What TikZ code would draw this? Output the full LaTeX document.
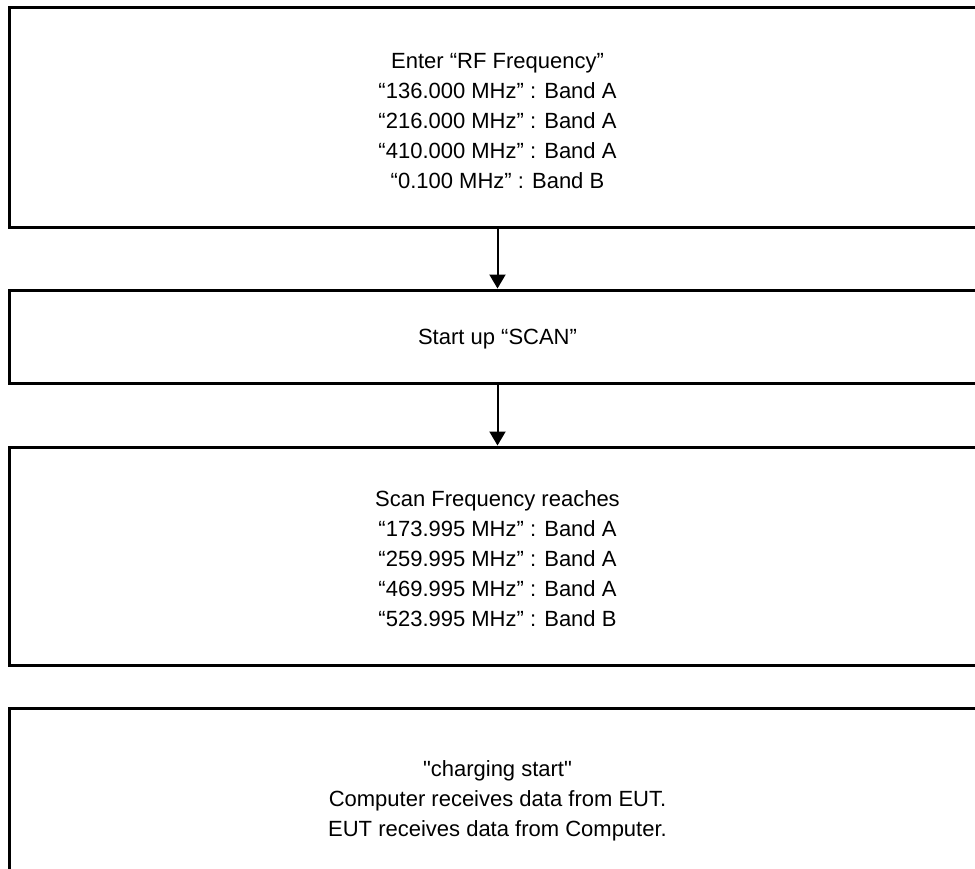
\documentclass[tikz,border=0pt]{standalone}
\usepackage{fontspec}
\setmainfont{Liberation Sans}[Ligatures=TeXOff]
\usetikzlibrary{arrows.meta}
\tikzset{
  box/.style={draw, line width=3pt, minimum width=976pt, inner sep=0pt},
  txt/.style={inner sep=0pt, align=center, font=\fontsize{22}{30}\selectfont},
  conn/.style={line width=2pt, -{Triangle[width=16pt,length=14pt]}}
}
\begin{document}
\begin{tikzpicture}[x=1pt,y=-1pt]
\useasboundingbox (0,0) rectangle (975,868);
\clip (0,0) rectangle (975,868);
\node[box, minimum height=220pt] (b1) at (497.5,117) {};
\node[box, minimum height=93pt] (b2) at (497.5,336.5) {};
\node[box, minimum height=218pt] (b3) at (497.5,556) {};
\node[box, minimum height=182pt] (b4) at (497.5,799) {};
\node[txt] (t1) at ([yshift=-4pt]b1.center) {Enter “RF Frequency”\\“136.000 MHz” : Band A\\“216.000 MHz” : Band A\\“410.000 MHz” : Band A\\“0.100 MHz” : Band B};
\node[txt] (t2) at ([yshift=-3pt]b2.center) {Start up “SCAN”};
\node[txt] (t3) at ([yshift=-3pt]b3.center) {Scan Frequency reaches\\“173.995 MHz” : Band A\\“259.995 MHz” : Band A\\“469.995 MHz” : Band A\\“523.995 MHz” : Band B};
\node[txt] (t4) at ([yshift=-2pt]b4.center) {"charging start"\\Computer receives data from EUT.\\EUT receives data from Computer.};
\draw[conn] (b1.south) -- (b2.north);
\draw[conn] (b2.south) -- (b3.north);
\end{tikzpicture}
\end{document}
